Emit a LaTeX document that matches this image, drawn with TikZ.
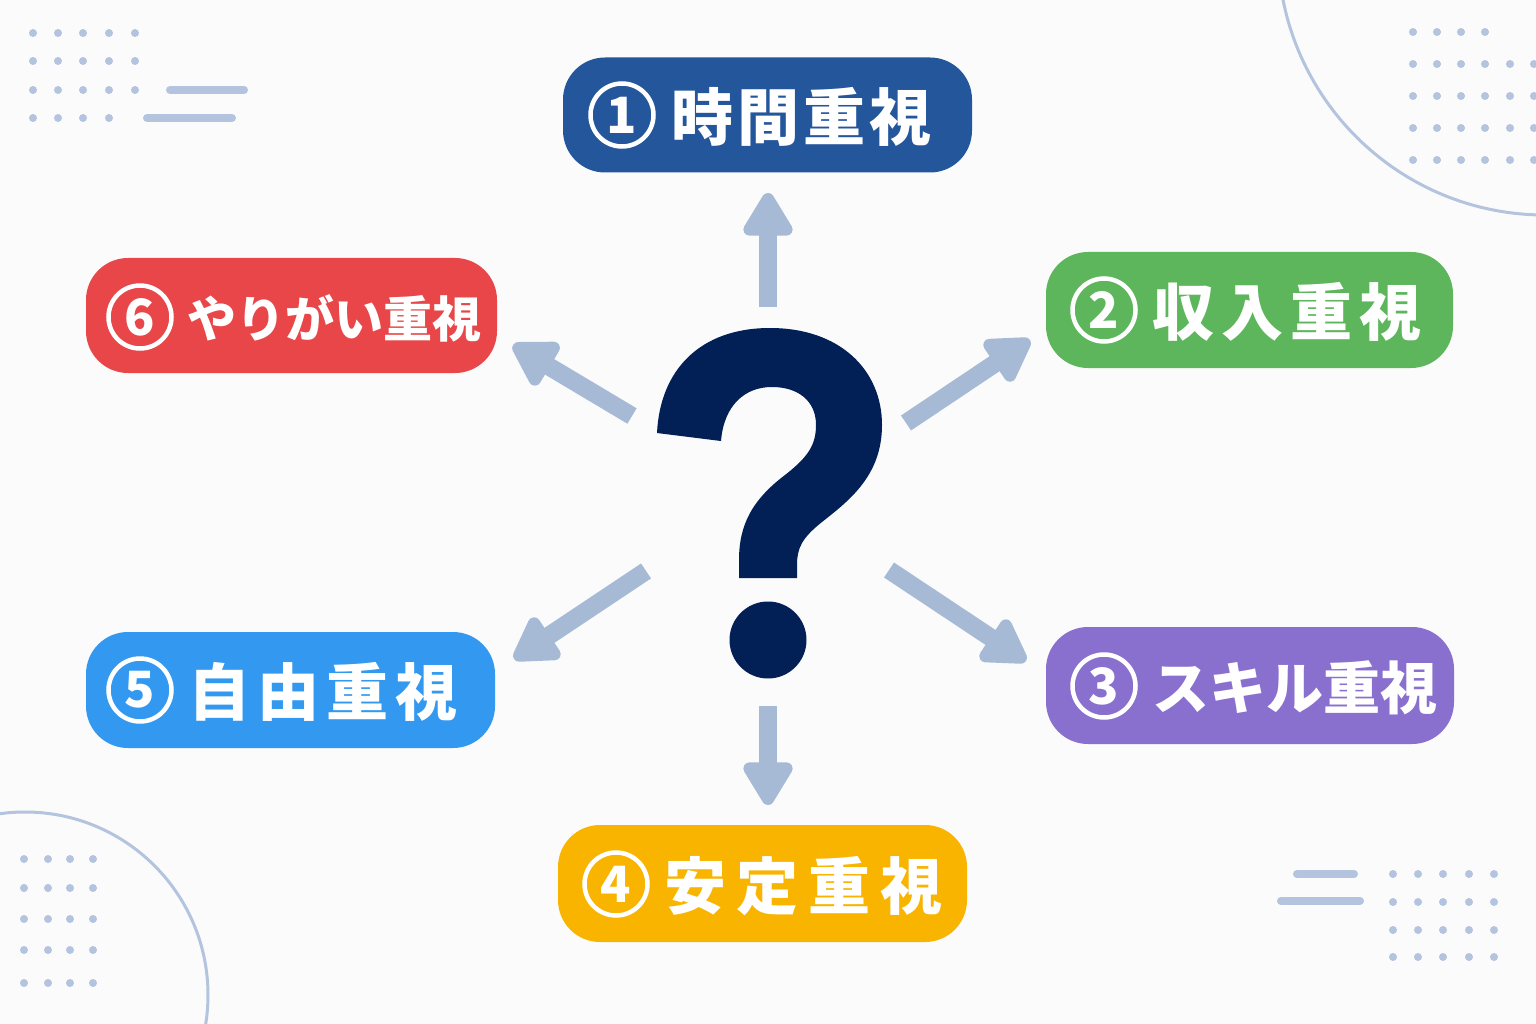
\documentclass[tikz,border=0pt]{standalone}
\usepackage{fontspec}
\newfontfamily\cjk{Noto Sans CJK JP}
\usetikzlibrary{arrows.meta}
\definecolor{bgc}{HTML}{FBFBFC}
\definecolor{cA}{HTML}{23569B}
\definecolor{cB}{HTML}{5DB65C}
\definecolor{cC}{HTML}{8A70CE}
\definecolor{cD}{HTML}{F9B400}
\definecolor{cE}{HTML}{3399F0}
\definecolor{cF}{HTML}{E84648}
\definecolor{qcol}{HTML}{022056}
\definecolor{arr}{HTML}{A6BAD6}
\definecolor{deco}{HTML}{B4C4DE}
\tikzset{
  box/.style={rounded corners=42pt, minimum width=409pt, minimum height=115pt, inner sep=0pt},
  numcirc/.style={circle, draw=white, line width=4.5pt, minimum size=63pt, inner sep=0pt, text=white,
    font=\cjk\bfseries\fontsize{50}{50}\selectfont},
  lbl/.style={anchor=west, inner sep=0pt, text=white, font=\cjk\bfseries\fontsize{62}{62}\selectfont},
  fatarrow/.style={draw=arr, line width=18pt, -{Triangle[width=55pt,length=49pt,round]}, line join=round},
  decoline/.style={draw=deco, line width=8pt, line cap=round},
  decoarc/.style={draw=deco, line width=3pt},
}
\begin{document}
\begin{tikzpicture}[x=1pt,y=-1pt]
\fill[bgc] (0,0) rectangle (1536,1024);
\useasboundingbox (0,0) rectangle (1536,1024);

% decorations
\foreach \x in {33,58,83,109,135} \foreach \y in {33,61,90} \fill[deco] (\x,\y) circle (4pt);
\foreach \x in {33,58,83,109} \fill[deco] (\x,118) circle (4pt);
\draw[decoline] (170,90) -- (244,90);
\draw[decoline] (147,118) -- (232,118);

\begin{scope}
\clip (0,0) rectangle (1536,1024);
\draw[decoarc] (1545,-52) circle (267pt);
\draw[decoarc] (25,995) circle (183pt);
\end{scope}
\foreach \x in {1413,1437,1461,1485} \fill[deco] (\x,32) circle (4pt);
\foreach \x in {1413,1437,1461,1485,1510,1534} \foreach \y in {64,96,128,160} \fill[deco] (\x,\y) circle (4pt);

\foreach \x in {24,48,70,93} \foreach \y in {859,888,919,950,983} \fill[deco] (\x,\y) circle (4pt);

\draw[decoline] (1297,874) -- (1354,874);
\draw[decoline] (1281,901) -- (1360,901);
\foreach \x in {1393,1418,1443,1469,1494} \foreach \y in {874,902,930,957} \fill[deco] (\x,\y) circle (4pt);

% question mark
\fill[qcol] (657,433) .. controls (660,370) and (700,328) .. (770,328)
  .. controls (840,328) and (882,370) .. (882,425)
  .. controls (882,475) and (850,500) .. (822,522)
  .. controls (802,538) and (797,548) .. (797,565) -- (797,578) -- (739,578) -- (739,560)
  .. controls (739,525) and (752,500) .. (785,475)
  .. controls (808,457) and (816,445) .. (816,425)
  .. controls (816,400) and (797,387) .. (772,387)
  .. controls (745,387) and (724,405) .. (721,441) -- cycle;
\fill[qcol] (768,640) circle (38.5pt);

% boxes
\node[box, fill=cA] (b1) at (767.5,115) {};
\node[numcirc] (n1) at (622,115) {1};
\node[lbl] (t1) at (671,117) {時\kern4pt 間\kern4pt 重\kern4pt 視};

\node[box, fill=cB, minimum width=407pt, minimum height=116pt] (b2) at (1249.5,310) {};
\node[numcirc] (n2) at (1104,310) {2};
\node[lbl] (t2) at (1152,312) {収\kern7pt 入\kern7pt 重\kern7pt 視};

\node[box, fill=cC, minimum width=408pt, minimum height=117pt] (b3) at (1250,685.5) {};
\node[numcirc] (n3) at (1104,686) {3};
\node[lbl, font=\cjk\bfseries\fontsize{57}{57}\selectfont] (t3) at (1152,688) {スキル重視};

\node[box, fill=cD, minimum width=409pt, minimum height=117pt] (b4) at (762.5,883.5) {};
\node[numcirc] (n4) at (616,884) {4};
\node[lbl] (t4) at (664,886) {安\kern10pt 定\kern10pt 重\kern10pt 視};

\node[box, fill=cE, minimum width=409pt, minimum height=116pt] (b5) at (290.5,690) {};
\node[numcirc] (n5) at (140,690) {5};
\node[lbl] (t5) at (188,692) {自\kern7pt 由\kern7pt 重\kern7pt 視};

\node[box, fill=cF, minimum width=411pt, minimum height=115pt] (b6) at (291.5,315.5) {};
\node[numcirc] (n6) at (140,317) {6};
\node[lbl, font=\cjk\bfseries\fontsize{49}{49}\selectfont] (t6) at (187,318) {やりがい重視};

% arrows
\coordinate (a1s) at (768,307); \coordinate (a1e) at (768,193);
\coordinate (a2s) at (906,423); \coordinate (a2e) at (1030,340);
\coordinate (a3s) at (889,570); \coordinate (a3e) at (1026,661);
\coordinate (a4s) at (768,706); \coordinate (a4e) at (768,805);
\coordinate (a5s) at (646,571); \coordinate (a5e) at (514,659);
\coordinate (a6s) at (632,416); \coordinate (a6e) at (513,345);
\foreach \i in {1,...,6} \draw[fatarrow] (a\i s) -- (a\i e);
\end{tikzpicture}
\end{document}
